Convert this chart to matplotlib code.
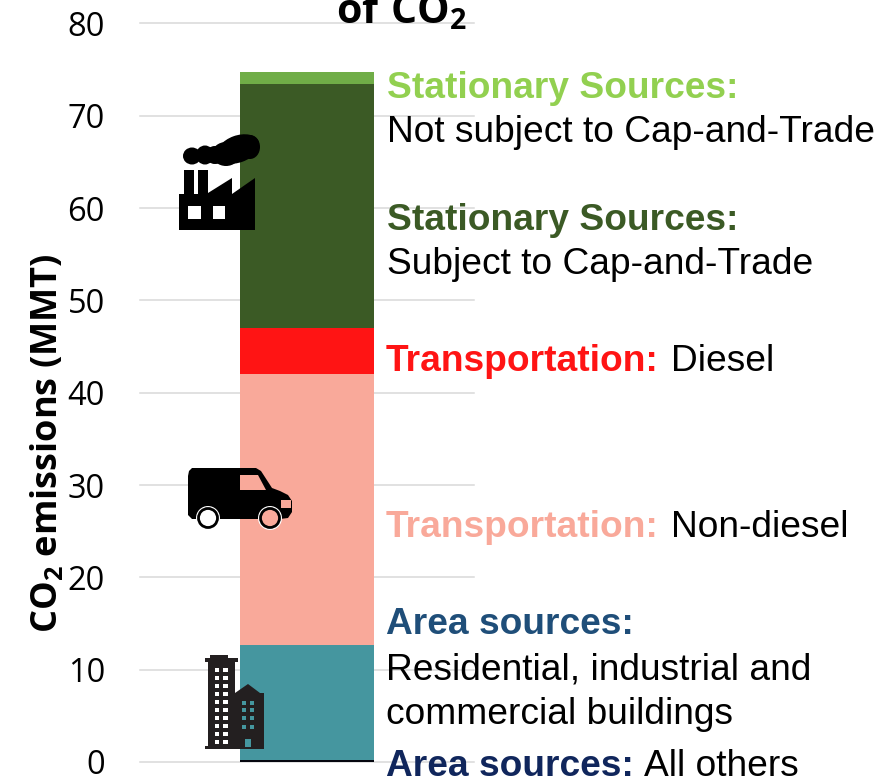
import matplotlib
matplotlib.use('Agg')
import matplotlib.pyplot as plt
from matplotlib.patches import Polygon, Rectangle, Ellipse, Circle

# stacked segments, bottom to top
segments = ['Area others', 'Area buildings', 'Transport non-diesel', 'Transport diesel',
            'Stationary subject', 'Stationary not subject']
values = [0.2, 12.5, 29.3, 5.0, 26.5, 1.2]
colors = ['#05070f', '#45969f', '#f9a99a', '#ff1414', '#3b5a25', '#70ad47']
yticks = [0, 10, 20, 30, 40, 50, 60, 70, 80]

W, H = 887, 781

plt.rcParams['mathtext.fontset'] = 'custom'
plt.rcParams['mathtext.bf'] = 'Open Sans:bold'
plt.rcParams['mathtext.rm'] = 'Open Sans:bold'

fig = plt.figure(figsize=(W / 100, H / 100), dpi=100)

# axes placed so the gridlines land where they are in the picture
ax = fig.add_axes([139.7 / W, 1 - 762 / H, 334.6 / W, (762 - 23.5) / H])
bottom = 0
for v, c in zip(values, colors):
    ax.bar(0.5, v, width=0.4, bottom=bottom, color=c, zorder=3)
    bottom += v
ax.set_xlim(0, 1)
ax.set_ylim(0, 80)
ax.set_xticks([])
ax.set_yticks(yticks)
ax.tick_params(axis='y', length=0, pad=25)
for lab in ax.get_yticklabels():
    lab.set_fontfamily('Open Sans')
    lab.set_fontsize(23.5)
ax.grid(axis='y', color='#d9d9d9', linewidth=1.1, zorder=0)
ax.set_axisbelow(True)
for s in ax.spines.values():
    s.set_visible(False)
for g in ax.get_ygridlines():
    g.set_clip_on(False)

# overlay in pixel units for the annotations and icons
ov = fig.add_axes([0, 0, 1, 1])
ov.set_xlim(0, W)
ov.set_ylim(H, 0)
ov.axis('off')
ov.patch.set_alpha(0)

ov.text(48, 443.5, r'$\mathbf{CO_2}$ emissions (MMT)', rotation=90, ha='center', va='center',
        family='Open Sans', fontweight='bold', fontsize=26)
ov.text(402, 23, r'$\mathbf{of\ CO_2}$', ha='center', va='baseline', family='Open Sans',
        fontweight='bold', fontsize=29.5)


def label(x, y, s, color='black', bold=False):
    ov.text(x, y, s, color=color, family='Liberation Sans', fontsize=26.7,
            fontweight='bold' if bold else 'normal', va='baseline', ha='left')


label(387, 98, 'Stationary Sources:', '#92d050', True)
label(387, 142, 'Not subject to Cap-and-Trade')
label(387, 230, 'Stationary Sources:', '#3b5a25', True)
label(387, 274, 'Subject to Cap-and-Trade')
label(386, 371, 'Transportation:', '#ff1414', True)
label(671, 371, 'Diesel')
label(386, 537, 'Transportation:', '#f9a99a', True)
label(671, 537, 'Non-diesel')
label(386, 634, 'Area sources:', '#1f4e79', True)
label(386, 679, 'Residential, industrial and')
label(386, 724, 'commercial buildings')
label(386, 776, 'Area sources:', '#10265c', True)
label(644, 776, 'All others')

# factory icon
ov.add_patch(Polygon([(179, 230), (179, 194), (184, 194), (184, 170), (194, 170), (194, 194),
                      (198, 194), (198, 170), (208, 170), (208, 193), (232, 178), (232, 194),
                      (255, 178), (255, 230)], color='black', lw=0))
ov.add_patch(Rectangle((188, 206), 13, 13, color='white', lw=0))
ov.add_patch(Rectangle((213, 206), 12, 13, color='white', lw=0))
for cx, cy, w, h, ang in [(192, 156, 18, 17, 0), (205, 155, 18, 19, 0), (215, 155, 20, 18, 0),
                          (226, 154, 28, 24, 0), (238, 149, 44, 27, 20), (250, 147, 20, 24, 0)]:
    ov.add_patch(Ellipse((cx, cy), w, h, angle=-ang, color='black', lw=0))

# van icon
ov.add_patch(Polygon([(188, 476), (189, 471), (192, 468), (256, 468), (261, 471), (272, 488),
                      (280, 491), (288, 495), (292, 501), (292, 512), (288, 518), (280, 519),
                      (192, 519), (188, 515)], color='black', lw=0))
ov.add_patch(Polygon([(240, 475), (258, 475), (266, 490), (240, 490)], color='#f9a99a', lw=0))
ov.add_patch(Rectangle((281, 500), 10, 8, color='#f9a99a', lw=0))
for cx, fill in [(208, 'white'), (270, '#f9a99a')]:
    ov.add_patch(Circle((cx, 518), 12, color='white', lw=0))
    ov.add_patch(Circle((cx, 518), 9.5, facecolor=fill, edgecolor='black', lw=2))

# building icon
dark = '#231f20'
ov.add_patch(Polygon([(205, 658), (210, 658), (210, 655), (228, 655), (228, 658), (238, 658),
                      (238, 662), (235, 662), (235, 693), (248, 684), (260, 693), (264, 693),
                      (264, 749), (205, 749), (205, 746), (208, 746), (208, 662), (205, 662)],
                     color=dark, lw=0))
for wy in [668, 676, 684, 692, 700, 708, 716, 724, 732, 740]:
    for wx in [215, 223.5]:
        ov.add_patch(Rectangle((wx, wy), 4.5, 3.5, color='white', lw=0))
for wy in [701, 708, 716, 724.5]:
    for wx in [242, 250]:
        ov.add_patch(Rectangle((wx, wy), 4, 4, color='#45969f', lw=0))
ov.add_patch(Rectangle((245, 739), 6, 8, color='#45969f', lw=0))

fig.savefig('out.png', dpi=100)
